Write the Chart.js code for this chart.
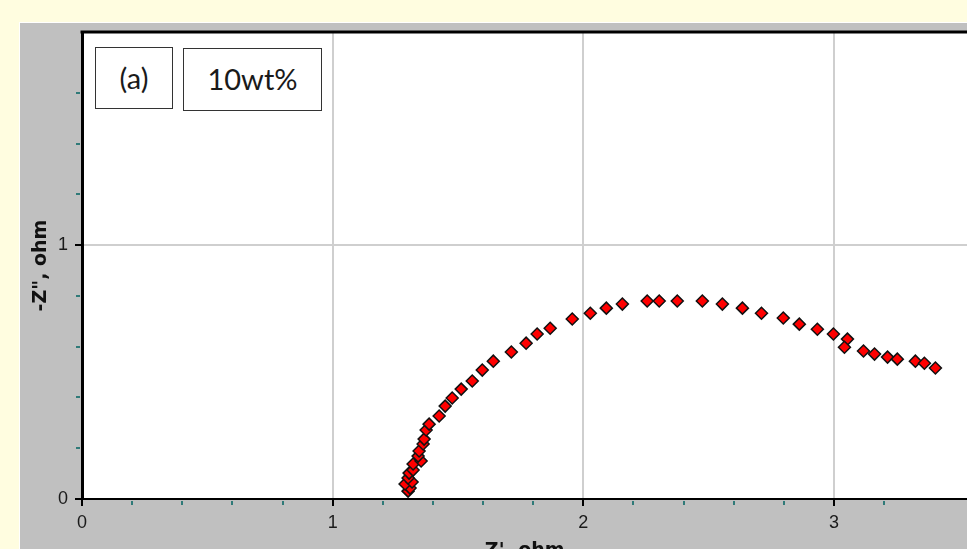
<!DOCTYPE html>
<html>
<head>
<meta charset="utf-8">
<script src="https://cdn.jsdelivr.net/npm/chart.js@4"></script>
<style>
  html, body { margin:0; padding:0; width:967px; height:549px; overflow:hidden; background:#fffde0; }
  #panel { position:absolute; left:19px; top:22px; width:948px; height:560px; background:#c0c0c0;
           border-top:1px solid #ffffff; border-left:1px solid #ffffff; overflow:hidden; }
  #wrap { position:absolute; left:0; top:0; width:955px; height:539px; }
  .box { position:absolute; background:#fff; border:1px solid #333; box-sizing:border-box;
         font-family:Lato, "Open Sans", sans-serif; font-size:29px; color:#1a1a1a;
         display:flex; align-items:center; justify-content:center; z-index:5; }
</style>
</head>
<body>
<div id="panel"><div id="wrap"><canvas id="c" width="955" height="539"></canvas></div></div>
<div class="box" style="left:95px;top:47px;width:78px;height:62px;padding-bottom:2px;">(a)</div>
<div class="box" style="left:183px;top:48px;width:139px;height:63px;padding-bottom:2px;">10wt%</div>
<script>
// Z' (real part, ohm)
const zReal = [1.301, 1.309, 1.289, 1.317, 1.301, 1.305, 1.321, 1.321, 1.353, 1.341,
               1.345, 1.361, 1.365, 1.373, 1.385, 1.425, 1.449, 1.477, 1.513, 1.557,
               1.597, 1.641, 1.713, 1.772, 1.816, 1.868, 1.956, 2.028, 2.092, 2.156,
               2.255, 2.303, 2.375, 2.475, 2.555, 2.635, 2.711, 2.798, 2.862, 2.934,
               2.998, 3.054, 3.042, 3.118, 3.162, 3.214, 3.253, 3.325, 3.361, 3.405];
// -Z'' (imaginary part, ohm)
const zImag = [0.031, 0.043, 0.059, 0.067, 0.083, 0.102, 0.114, 0.138, 0.150, 0.169,
               0.189, 0.217, 0.236, 0.272, 0.295, 0.327, 0.366, 0.398, 0.433, 0.465,
               0.508, 0.543, 0.579, 0.614, 0.650, 0.673, 0.709, 0.732, 0.752, 0.768,
               0.780, 0.780, 0.780, 0.780, 0.768, 0.752, 0.732, 0.713, 0.689, 0.669,
               0.650, 0.630, 0.598, 0.583, 0.571, 0.559, 0.551, 0.543, 0.535, 0.516];
const xTickLabels = ['0', '1', '2', '3'];
const yTickLabels = ['0', '1'];
const xRange = [0, 3.533];
const yRange = [0, 1.84];
const minorStep = 0.2;

const points = zReal.map((x, i) => ({ x: x, y: zImag[i] }));
const isInt = v => Math.abs(v - Math.round(v)) < 1e-6;
const isMinor = v => !isInt(v) && Math.abs(v / minorStep - Math.round(v / minorStep)) < 1e-6;
const zeroPad = s => { s.paddingTop = 0; s.paddingBottom = 0; s.paddingLeft = 0; s.paddingRight = 0; };

const framePlugin = {
  id: 'frame',
  beforeDraw(chart) {
    const { ctx, chartArea: a } = chart;
    ctx.save();
    ctx.fillStyle = '#ffffff';
    ctx.fillRect(a.left, a.top, a.right - a.left, a.bottom - a.top);
    ctx.restore();
  },
  afterDraw(chart) {
    const { ctx, chartArea: a, scales } = chart;
    ctx.save();
    ctx.strokeStyle = '#000';
    ctx.lineWidth = 3;
    ctx.beginPath();
    ctx.moveTo(a.left - 1.5, a.top);
    ctx.lineTo(a.right, a.top);
    ctx.stroke();
    ctx.strokeStyle = '#2f7a78';
    ctx.lineWidth = 2;
    scales.x.ticks.forEach(t => {
      if (!isMinor(t.value)) return;
      const px = Math.round(scales.x.getPixelForValue(t.value));
      ctx.beginPath(); ctx.moveTo(px, a.bottom + 2); ctx.lineTo(px, a.bottom + 6); ctx.stroke();
    });
    scales.y.ticks.forEach(t => {
      if (!isMinor(t.value)) return;
      const py = Math.round(scales.y.getPixelForValue(t.value));
      ctx.beginPath(); ctx.moveTo(a.left - 6, py); ctx.lineTo(a.left - 2, py); ctx.stroke();
    });
    ctx.restore();
  }
};

const tickFont = { family: '"Liberation Sans", Arial, sans-serif', size: 18 };
const titleFont = { family: '"DejaVu Sans", sans-serif', size: 19, weight: 'bold' };

new Chart(document.getElementById('c'), {
  type: 'scatter',
  data: { datasets: [{ data: points, pointStyle: 'rectRot', pointRadius: 6, pointHoverRadius: 6,
    backgroundColor: '#ff0000', borderColor: '#111111', borderWidth: 1.5, showLine: false }] },
  options: {
    responsive: false, devicePixelRatio: 1, animation: false,
    layout: { padding: { top: 9, left: 0, right: 0, bottom: 0 } },
    plugins: { legend: { display: false }, tooltip: { enabled: false } },
    scales: {
      x: {
        type: 'linear', min: xRange[0], max: xRange[1],
        afterFit(s) { s.height = 63; zeroPad(s); },
        border: { display: true, color: '#000', width: 2 },
        grid: {
          color: c => (c.tick && isInt(c.tick.value) && c.tick.value > 0) ? '#cfcfcf' : 'rgba(0,0,0,0)',
          lineWidth: 2,
          tickColor: c => (c.tick && isInt(c.tick.value)) ? '#000' : 'rgba(0,0,0,0)',
          tickLength: 7, tickWidth: 2
        },
        ticks: { stepSize: minorStep, autoSkip: false, maxRotation: 0, padding: 6, color: '#1a1a1a', font: tickFont,
          callback: v => isInt(v) ? (xTickLabels[Math.round(v)] ?? '') : '' },
        title: { display: true, text: "Z', ohm", color: '#111', font: titleFont, padding: { top: 0, bottom: 0 } }
      },
      y: {
        type: 'linear', min: yRange[0], max: yRange[1],
        afterFit(s) { s.width = 62; zeroPad(s); },
        border: { display: true, color: '#000', width: 3 },
        grid: {
          color: c => (c.tick && isInt(c.tick.value) && c.tick.value > 0) ? '#cfcfcf' : 'rgba(0,0,0,0)',
          lineWidth: 2,
          tickColor: c => (c.tick && isInt(c.tick.value)) ? '#000' : 'rgba(0,0,0,0)',
          tickLength: 7, tickWidth: 2
        },
        ticks: { stepSize: minorStep, autoSkip: false, padding: 7, color: '#1a1a1a', font: tickFont,
          callback: v => isInt(v) ? (yTickLabels[Math.round(v)] ?? '') : '' },
        title: { display: true, text: '-Z", ohm', color: '#111', font: titleFont, padding: { top: 10, bottom: 0 } }
      }
    }
  },
  plugins: [framePlugin]
});
</script>
</body>
</html>
